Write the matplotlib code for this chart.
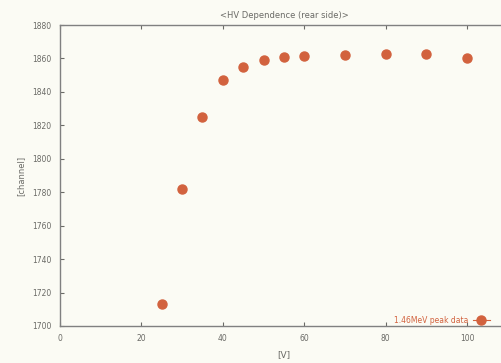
import matplotlib
matplotlib.use("Agg")
import matplotlib.pyplot as plt
from matplotlib.lines import Line2D

# HV scan of the rear-side detector
voltage = [25, 30, 35, 40, 45, 50, 55, 60, 70, 80, 90, 100]
peak_channel = [1713, 1782, 1825, 1847, 1855, 1859, 1861, 1861.5, 1862, 1862.5, 1862.5, 1860]

x_ticks = [0, 20, 40, 60, 80, 100]
y_ticks = [1700, 1720, 1740, 1760, 1780, 1800, 1820, 1840, 1860, 1880]

paper = "#fbfbf4"
ink = "#6a6a66"
dot = "#d2623e"

fig = plt.figure(figsize=(5.02, 3.63), dpi=100, facecolor=paper)
ax = fig.add_axes([0.1195, 0.102, 0.892, 0.829], facecolor=paper)

ax.plot(voltage, peak_channel, linestyle="none", marker="o", markersize=6.5,
        color=dot, markeredgecolor=dot)

ax.set_xlim(0, 110)
ax.set_ylim(1700, 1880)
ax.set_xticks(x_ticks)
ax.set_yticks(y_ticks)
ax.tick_params(direction="in", length=3, width=0.8, colors=ink, labelsize=5.5,
               top=True, right=True, pad=6)
for s in ax.spines.values():
    s.set_color("#808080")
    s.set_linewidth(1.0)

ax.set_title("<HV Dependence (rear side)>", fontsize=6, color=ink, pad=5)
ax.set_xlabel("[V]", fontsize=6.5, color=ink, labelpad=5)
ax.set_ylabel("[channel]", fontsize=6, color=ink, labelpad=5)

handle = Line2D([], [], color=dot, marker="o", markersize=6.5, linewidth=0.8)
leg = ax.legend([handle], ["1.46MeV peak data"], loc="lower right",
                bbox_to_anchor=(0.975, -0.018), markerfirst=False, frameon=False,
                fontsize=5.5, handlelength=2.2, handletextpad=0.6)
for t in leg.get_texts():
    t.set_color(dot)

fig.savefig("out.png", dpi=100, facecolor=paper)
